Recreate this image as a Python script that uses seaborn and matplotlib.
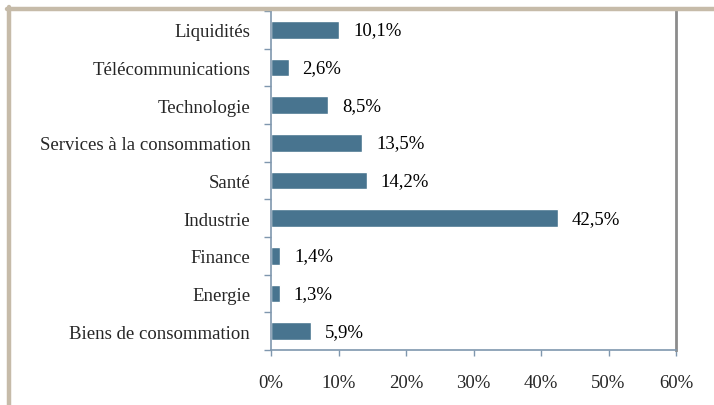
import matplotlib.pyplot as plt
import pandas as pd
import seaborn as sns
from matplotlib.lines import Line2D
from matplotlib.ticker import FuncFormatter

secteurs = [
    "Liquidités",
    "Télécommunications",
    "Technologie",
    "Services à la consommation",
    "Santé",
    "Industrie",
    "Finance",
    "Energie",
    "Biens de consommation",
]
poids = [10.1, 2.6, 8.5, 13.5, 14.2, 42.5, 1.4, 1.3, 5.9]
etiquettes = ["10,1%", "2,6%", "8,5%", "13,5%", "14,2%", "42,5%", "1,4%", "1,3%", "5,9%"]
graduations = [0, 10, 20, 30, 40, 50, 60]

df = pd.DataFrame({"secteur": secteurs, "poids": poids})

sns.set_style("white")
plt.rcParams["font.family"] = ["Liberation Serif", "DejaVu Serif"]

fig = plt.figure(figsize=(7.14, 4.06), dpi=100)
ax = fig.add_axes([271 / 714, 1 - 351 / 406, (676 - 271) / 714, (351 - 12) / 406])

couleur_barre = "#48748F"
sns.barplot(data=df, x="poids", y="secteur", orient="h", color=couleur_barre,
            width=0.47, saturation=1, ax=ax)

for i, (v, txt) in enumerate(zip(poids, etiquettes)):
    ax.annotate(txt, (v, i), xytext=(10, 0), textcoords="offset points",
                va="center", ha="left", fontsize=13.5, color="black")

ax.set_xlim(0, 60)
ax.set_ylim(len(secteurs) - 0.5, -0.5)
ax.set_xticks(graduations)
ax.xaxis.set_major_formatter(FuncFormatter(lambda x, _: f"{x:.0f}%"))
ax.set_xlabel("")
ax.set_ylabel("")

# ticks between categories on y axis
ax.set_yticks(range(len(secteurs)))
ax.set_yticks([i - 0.5 for i in range(len(secteurs) + 1)], minor=True)
ax.tick_params(axis="y", which="major", length=0, pad=15, labelsize=13.5)
ax.tick_params(axis="y", which="minor", length=5, color="#7F97AE", width=1, direction="out", left=True)
ax.tick_params(axis="x", which="major", length=4, color="#7F97AE", width=1, direction="out",
               pad=13, labelsize=13.5, bottom=True)

for s in ["left", "bottom"]:
    ax.spines[s].set_color("#7F97AE")
    ax.spines[s].set_linewidth(1.2)
ax.spines["right"].set_color("#8C8C8C")
ax.spines["right"].set_linewidth(2)
ax.spines["top"].set_visible(False)

# cadre beige autour du graphique
bord = "#C6BBA9"
fig.add_artist(Line2D([9 / 714, 9 / 714], [0, 1 - 8 / 406], transform=fig.transFigure,
                      color=bord, linewidth=3.2))
fig.add_artist(Line2D([7 / 714, 1], [1 - 10 / 406, 1 - 10 / 406], transform=fig.transFigure,
                      color=bord, linewidth=3.2))

fig.savefig("out.png", dpi=100)
